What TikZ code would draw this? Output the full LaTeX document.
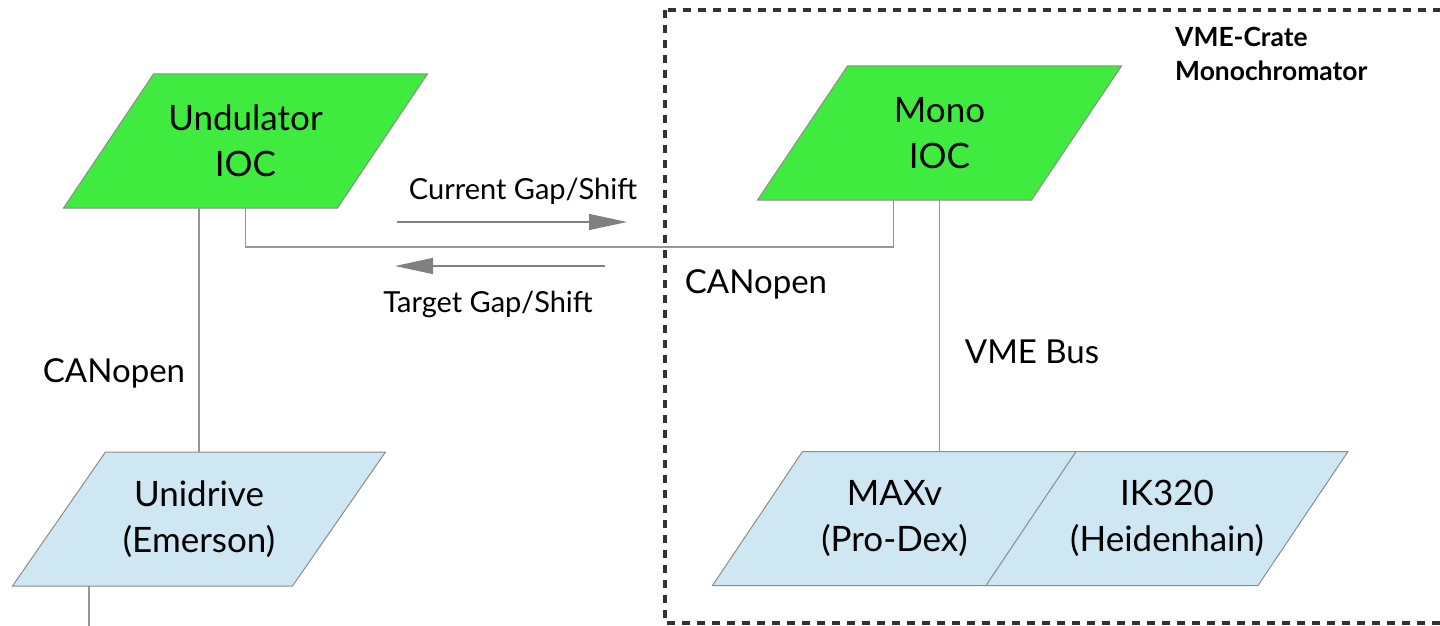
\documentclass[tikz,border=0pt]{standalone}
\usepackage{fontspec}
\setmainfont{Lato}
\usetikzlibrary{arrows.meta}
\usetikzlibrary{backgrounds}
\usetikzlibrary{positioning}
\definecolor{iocgreen}{RGB}{64,235,64}
\definecolor{devblue}{RGB}{207,230,243}
\definecolor{edgegray}{RGB}{140,140,140}
\definecolor{wiregray}{RGB}{150,150,150}
\definecolor{cratedash}{RGB}{51,51,51}
\begin{document}
\begin{tikzpicture}[x=1pt,y=-1pt,
  box/.style={minimum width=274pt,minimum height=134pt,inner sep=0pt,outer sep=0pt,align=center,font=\fontsize{35}{46}\selectfont},
  para/.style={draw=edgegray,line width=1pt},
  wire/.style={draw=wiregray,line width=1.3pt},
  flow/.style={draw=gray,line width=1.3pt,-{Triangle[length=38pt,width=16pt]}},
  lbl/.style={font=\fontsize{33}{40}\selectfont},
  small/.style={font=\fontsize{29}{34}\selectfont}]
  \useasboundingbox (0,0) rectangle (1440,626);
  %crate
  \draw[draw=cratedash,line width=4pt,dash pattern=on 8pt off 7pt] (665,10) rectangle (1460,623);
  \node[font=\fontsize{26.4}{34}\selectfont\bfseries,align=left,anchor=west,inner sep=0pt] (crate) at (1175,54) {VME-Crate\\Monochromator};
  %boxes
  \node[box] (und) at (245.5,141) {Undulator\\IOC};
  \node[box] (mono) at (939.5,133) {Mono\\IOC};
  \node[box,minimum width=280pt] (uni) at (199,519) {Unidrive\\(Emerson)};
  \node[box] (maxv) at (894.5,518.5) {MAXv\\(Pro-Dex)};
  \node[box,minimum width=272pt] (ik) at (1167,518.5) {IK320\\(Heidenhain)};
  \begin{scope}[on background layer]
    \foreach \b/\c/\s in {und/iocgreen/45,mono/iocgreen/45,uni/devblue/46.5,maxv/devblue/45,ik/devblue/45}
      \filldraw[para,fill=\c] ([xshift=-\s pt]\b.south west) -- ([xshift=-\s pt]\b.south east)
        -- ([xshift=\s pt]\b.north east) -- ([xshift=\s pt]\b.north west) -- cycle;
  \end{scope}
  %wires
  \coordinate (out) at (89,626);
  \draw[wire] (uni.north |- und.south) -- (uni.north);
  \draw[wire] (und.south) -- ++(0,39) -| ([xshift=-46pt]mono.south);
  \draw[wire] (mono.south) -- (mono.south |- maxv.north);
  \draw[wire] (uni.south -| out) -- (out);
  %gap/shift
  \coordinate (cur-a) at (397,222);
  \coordinate (cur-b) at (627,222);
  \coordinate (tgt-a) at (605,266);
  \coordinate (tgt-b) at (395,266);
  \draw[flow] (cur-a) -- (cur-b);
  \draw[flow] (tgt-a) -- (tgt-b);
  \node[small] (cur) at (523,191) {Current Gap/Shift};
  \node[small] (tgt) at (488,304) {Target Gap/Shift};
  %labels
  \node[lbl] (can1) at (114,373) {CANopen};
  \node[lbl] (can2) at (756,284) {CANopen};
  \node[lbl] (vme) at (1032,352) {VME Bus};
\end{tikzpicture}
\end{document}
